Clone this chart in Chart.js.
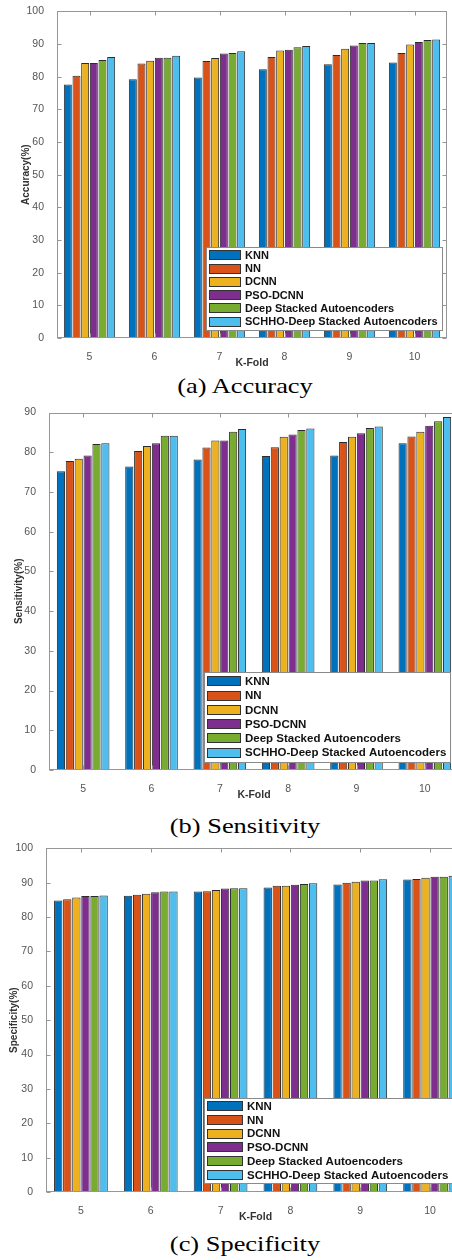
<!DOCTYPE html>
<html>
<head>
<meta charset="utf-8">
<script src="https://cdn.jsdelivr.net/npm/chart.js@4/dist/chart.umd.min.js"></script>
<style>
  html, body { margin: 0; padding: 0; background: #fff; overflow: hidden; }
  body { width: 452px; height: 1260px; position: relative; }
  .panel { position: absolute; left: 0; }
  .caption {
    position: absolute; left: 19px; width: 452px; height: 24px; line-height: 24px;
    text-align: center; font-family: "Liberation Serif", "Times New Roman", serif;
    font-size: 22px; color: #000; transform: scaleX(1.2); white-space: nowrap;
  }
</style>
</head>
<body>
<canvas id="acc" class="panel" width="452" height="372" style="top:0"></canvas>
<div class="caption" style="top:374px">(a) Accuracy</div>
<canvas id="sens" class="panel" width="462" height="404" style="top:400px"></canvas>
<div class="caption" style="top:814px">(b) Sensitivity</div>
<canvas id="spec" class="panel" width="468" height="390" style="top:836px"></canvas>
<div class="caption" style="top:1232px">(c) Specificity</div>
<script>
const kFolds = ["5", "6", "7", "8", "9", "10"];
const methods = ["KNN", "NN", "DCNN", "PSO-DCNN", "Deep Stacked Autoencoders", "SCHHO-Deep Stacked Autoencoders"];
const colors = ["#0072BD", "#D95319", "#EDB120", "#7E2F8E", "#77AC30", "#4DBEEE"];

// accuracy (%) per method, one value per k-fold
const accKnn = [77.6, 79.2, 79.7, 82.3, 83.8, 84.3];
const accNn = [80.3, 84.0, 84.8, 86.0, 86.6, 87.2];
const accDcnn = [84.2, 84.9, 85.7, 88.0, 88.5, 89.8];
const accPso = [84.2, 85.8, 87.1, 88.2, 89.5, 90.6];
const accDsa = [85.1, 85.8, 87.2, 89.0, 90.3, 91.2];
const accSchho = [86.0, 86.4, 87.8, 89.4, 90.3, 91.4];

// sensitivity (%)
const senKnn = [75.2, 76.4, 78.2, 79.1, 79.2, 82.3];
const senNn = [77.8, 80.3, 81.2, 81.3, 82.6, 84.0];
const senDcnn = [78.4, 81.6, 83.0, 83.9, 83.9, 85.2];
const senPso = [79.2, 82.3, 83.0, 84.5, 84.8, 86.7];
const senDsa = [82.1, 84.2, 85.2, 85.6, 86.1, 87.8];
const senSchho = [82.3, 84.2, 85.9, 86.0, 86.5, 88.9];

// specificity (%)
const speKnn = [84.8, 86.2, 87.4, 88.6, 89.5, 90.9];
const speNn = [85.2, 86.5, 87.5, 89.1, 90.0, 91.1];
const speDcnn = [85.7, 86.8, 87.9, 89.1, 90.3, 91.4];
const spePso = [86.1, 87.2, 88.3, 89.4, 90.6, 91.7];
const speDsa = [86.1, 87.4, 88.4, 89.6, 90.6, 91.7];
const speSchho = [86.3, 87.4, 88.4, 89.8, 91.0, 92.0];

const FONT = '"Liberation Sans", Arial, sans-serif';
const BOX_COLOR = "#969696";

// matlab-like box with inward ticks on all four sides
const axisBox = {
  id: "axisBox",
  afterDatasetsDraw(chart) {
    const { ctx, chartArea: a, scales } = chart;
    const L = Math.round(a.left) + 0.5, R = Math.round(a.right) - 0.5;
    const T = Math.round(a.top) + 0.5, B = Math.round(a.bottom) - 0.5;
    ctx.save();
    ctx.strokeStyle = BOX_COLOR;
    ctx.lineWidth = 1;
    ctx.beginPath();
    scales.x.ticks.forEach((t, i) => {
      const px = Math.round(scales.x.getPixelForTick(i)) + 0.5;
      ctx.moveTo(px, T); ctx.lineTo(px, T + 4);
      ctx.moveTo(px, B); ctx.lineTo(px, B - 4);
    });
    scales.y.ticks.forEach((t, i) => {
      const py = Math.round(scales.y.getPixelForTick(i)) + 0.5;
      ctx.moveTo(L, py); ctx.lineTo(L + 4, py);
      ctx.moveTo(R, py); ctx.lineTo(R - 4, py);
    });
    ctx.stroke();
    ctx.strokeRect(L, T, R - L, B - T);
    ctx.restore();
  },
};

// legend box drawn inside the plot, bottom right
const boxLegend = {
  id: "boxLegend",
  afterDatasetsDraw(chart, args, o) {
    const { ctx, chartArea: a } = chart;
    const sets = chart.data.datasets;
    const h = o.rowH * sets.length + o.padY * 2;
    const x = Math.round(a.right - o.right - o.width);
    const y = Math.round(a.bottom - o.bottom - h);
    ctx.save();
    ctx.fillStyle = "#fff";
    ctx.fillRect(x, y, o.width, h);
    ctx.strokeStyle = "#8a8a8a";
    ctx.lineWidth = 1;
    ctx.strokeRect(x + 0.5, y + 0.5, o.width, Math.round(h));
    ctx.font = `bold ${o.font}px ${FONT}`;
    ctx.textBaseline = "middle";
    sets.forEach((ds, i) => {
      const cy = y + o.padY + o.rowH * (i + 0.5);
      ctx.fillStyle = ds.backgroundColor;
      ctx.fillRect(x + 3, Math.round(cy - 5), o.swatchW, 10);
      ctx.strokeStyle = "#333";
      ctx.strokeRect(x + 3.5, Math.round(cy - 5) + 0.5, o.swatchW - 1, 9);
      ctx.fillStyle = "#111";
      ctx.fillText(ds.label, x + 3 + o.swatchW + 4, cy + 0.5);
    });
    ctx.restore();
  },
};

function buildDatasets(series, catPct) {
  return series.map((values, i) => ({
    label: methods[i],
    data: values,
    backgroundColor: colors[i],
    borderColor: "#2b2b2b",
    borderWidth: 1,
    borderSkipped: false,
    categoryPercentage: catPct,
    barPercentage: 0.92,
  }));
}

function buildChartConfig(p) {
  return {
    type: "bar",
    data: { labels: kFolds, datasets: buildDatasets(p.series, p.catPct) },
    plugins: [axisBox, boxLegend],
    options: {
      responsive: false,
      animation: false,
      devicePixelRatio: 1,
      layout: { padding: { top: p.padTop, right: p.padRight, left: 0, bottom: 0 } },
      plugins: {
        legend: { display: false },
        tooltip: { enabled: false },
        boxLegend: p.legend,
      },
      scales: {
        x: {
          grid: { display: false },
          border: { display: false },
          ticks: { color: "#555", padding: 5, font: { family: FONT, size: 10.5 } },
          title: {
            display: true, text: "K-Fold", color: "#333",
            font: { family: FONT, size: 10.5, weight: "bold" },
            padding: { top: 0, bottom: 3 },
          },
          afterFit(scale) { scale.height = 34; },
        },
        y: {
          min: 0,
          max: p.yMax,
          grid: { display: false },
          border: { display: false },
          ticks: { stepSize: 10, color: "#555", padding: 5, font: { family: FONT, size: 10.5 } },
          title: {
            display: true, text: p.yTitle, color: "#333",
            font: { family: FONT, size: 10, weight: "bold" },
            padding: { top: p.yTitlePad, bottom: 0 },
          },
          afterFit(scale) { scale.width = p.yWidth; },
        },
      },
    },
  };
}

const panels = [
  {
    id: "acc", series: [accKnn, accNn, accDcnn, accPso, accDsa, accSchho],
    padTop: 9.3, padRight: 5, yWidth: 57, yMax: 100, yTitle: "Accuracy(%)", yTitlePad: 20, catPct: 0.8,
    legend: { width: 236, right: 5, bottom: 8, rowH: 13.3, padY: 1.6, swatchW: 32, font: 11 },
  },
  {
    id: "sens", series: [senKnn, senNn, senDcnn, senPso, senDsa, senSchho],
    padTop: 12.6, padRight: 3, yWidth: 49, yMax: 90, yTitle: "Sensitivity(%)", yTitlePad: 13, catPct: 0.78,
    legend: { width: 246, right: 9, bottom: 8, rowH: 14.3, padY: 2.1, swatchW: 34, font: 11.5 },
  },
  {
    id: "spec", series: [speKnn, speNn, speDcnn, spePso, speDsa, speSchho],
    padTop: 12.3, padRight: 3, yWidth: 46, yMax: 100, yTitle: "Specificity(%)", yTitlePad: 8, catPct: 0.78,
    legend: { width: 252, right: 9, bottom: 8.5, rowH: 13.7, padY: 1.5, swatchW: 36, font: 11.5 },
  },
];

panels.forEach((p) => new Chart(document.getElementById(p.id), buildChartConfig(p)));
</script>
</body>
</html>
